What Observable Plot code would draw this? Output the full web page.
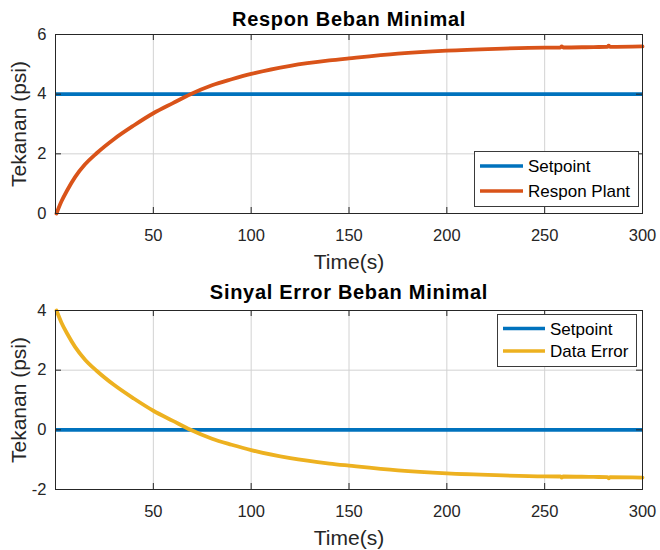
<!DOCTYPE html>
<html>
<head>
<meta charset="utf-8">
<script src="https://cdn.jsdelivr.net/npm/d3@7"></script>
<script src="https://cdn.jsdelivr.net/npm/@observablehq/plot@0.6"></script>
<style>
  html, body { margin: 0; padding: 0; background: #fff; }
  #wrap { position: relative; width: 660px; height: 550px; overflow: hidden; }
  #wrap svg { display: block; }
  #overlay { position: absolute; left: 0; top: 0; pointer-events: none; }
</style>
</head>
<body>
<div id="wrap"></div>
<script>
// ---- data ----
const times  = [0.5, 3, 6, 10, 15, 21, 30, 40, 50, 60, 69, 80, 90, 100, 120, 140, 150, 175, 200, 225, 250, 258, 258.7, 259.5, 275, 282, 282.7, 283.5, 300];
const respon = [0, 0.4, 0.78, 1.22, 1.64, 2.02, 2.5, 2.95, 3.36, 3.7, 4.0, 4.3, 4.5, 4.68, 4.95, 5.13, 5.2, 5.36, 5.46, 5.52, 5.56, 5.565, 5.6, 5.565, 5.58, 5.585, 5.625, 5.585, 5.6];
const errorData = [4.0, 3.6, 3.22, 2.78, 2.36, 1.98, 1.5, 1.05, 0.64, 0.3, 0.0, -0.3, -0.5, -0.68, -0.95, -1.13, -1.2, -1.36, -1.46, -1.52, -1.56, -1.565, -1.6, -1.565, -1.58, -1.585, -1.625, -1.585, -1.6];
const setpointRespon = 4;
const setpointError = 0;
const xDomain = [0, 300];
const xTicks = [50, 100, 150, 200, 250, 300];
const yTicksTop = [0, 2, 4, 6];
const yTicksBottom = [-2, 0, 2, 4];
const titleTop = "Respon Beban Minimal";
const titleBottom = "Sinyal Error Beban Minimal";
const xLabel = "Time(s)";
const yLabel = "Tekanan (psi)";
const legendTop = ["Setpoint", "Respon Plant"];
const legendBottom = ["Setpoint", "Data Error"];

const BLUE = "#0072BD", ORANGE = "#D95319", YELLOW = "#EDB120";
const AX = "#262626", GRID = "#d2d2d2";
const FONT = "'Liberation Sans', Arial, Helvetica, sans-serif";

const W = 660, H = 275, ML = 55, MR = 18;

function panel({values, color, setpoint, yDomain, yTicks, title, mt, mb, titleDy}) {
  const pw = W - ML - MR, ph = H - mt - mb;
  const data = times.map((t, i) => ({t, v: values[i]}));
  const svg = Plot.plot({
    width: W, height: H,
    marginLeft: ML, marginRight: MR, marginTop: mt, marginBottom: mb,
    x: {domain: xDomain, axis: null},
    y: {domain: yDomain, axis: null},
    style: {fontFamily: FONT, background: "#fff", color: AX, overflow: "visible"},
    marks: [
      Plot.gridX(xTicks, {stroke: GRID, strokeOpacity: 1}),
      Plot.gridY(yTicks, {stroke: GRID, strokeOpacity: 1}),
      Plot.ruleY([setpoint], {stroke: BLUE, strokeWidth: 3.6}),
      Plot.line(data, {x: "t", y: "v", stroke: color, strokeWidth: 3.8, curve: "monotone-x"}),
      Plot.frame({stroke: AX, strokeWidth: 1}),
      // inward ticks on all four sides
      Plot.tickX(xTicks, {x: d => d, stroke: AX, insetTop: ph - 6}),
      Plot.tickX(xTicks, {x: d => d, stroke: AX, insetBottom: ph - 6}),
      Plot.tickY(yTicks, {y: d => d, stroke: AX, insetRight: pw - 6}),
      Plot.tickY(yTicks, {y: d => d, stroke: AX, insetLeft: pw - 6}),
      Plot.axisX(xTicks, {anchor: "bottom", tickSize: 0, tickPadding: 16, fontSize: 16.5, label: null, tickFormat: d => String(d), fill: AX}),
      Plot.axisY(yTicks, {anchor: "left", tickSize: 0, tickPadding: 9, fontSize: 16.5, label: null, tickFormat: d => String(d), fill: AX}),
      Plot.text([xLabel], {text: d => d, frameAnchor: "bottom", lineAnchor: "middle", dy: 49, fontSize: 21, fill: AX}),
      Plot.text([yLabel], {text: d => d, frameAnchor: "left", textAnchor: "middle", lineAnchor: "middle", rotate: -90, dx: -36.5, fontSize: 21, fill: AX}),
      Plot.text([title], {text: d => d, frameAnchor: "top", lineAnchor: "middle", dy: titleDy, fontSize: 20, fontWeight: "bold", fill: "#000"})
    ]
  });
  d3.select(svg).selectAll("text").filter(function() { return this.textContent === title; })
    .attr("letter-spacing", "0.7px");
  return svg;
}

const wrap = document.getElementById("wrap");
wrap.appendChild(panel({values: respon, color: ORANGE, setpoint: setpointRespon, yDomain: [0, 6], yTicks: yTicksTop, title: titleTop, mt: 34, mb: 62, titleDy: -15}));
wrap.appendChild(panel({values: errorData, color: YELLOW, setpoint: setpointError, yDomain: [-2, 4], yTicks: yTicksBottom, title: titleBottom, mt: 35, mb: 61, titleDy: -17.5}));

// ---- legends (overlay) ----
const ov = d3.select(wrap).append("svg").attr("id", "overlay").attr("width", W).attr("height", 550)
  .style("font-family", FONT);
function legend(labels, colors, box, lineX, rowsY) {
  const g = ov.append("g");
  g.append("rect").attr("x", box[0] + 0.5).attr("y", box[1] + 0.5).attr("width", box[2]).attr("height", box[3])
    .attr("fill", "#fff").attr("stroke", "#3a3a3a").attr("stroke-width", 1);
  labels.forEach((lab, i) => {
    g.append("line").attr("x1", lineX[0]).attr("x2", lineX[1]).attr("y1", rowsY[i]).attr("y2", rowsY[i])
      .attr("stroke", colors[i]).attr("stroke-width", 3.6);
    g.append("text").attr("x", lineX[1] + 5).attr("y", rowsY[i]).attr("dy", "0.36em")
      .attr("font-size", 17).attr("fill", "#000").text(lab);
  });
}
legend(legendTop, [BLUE, ORANGE], [474, 151, 164, 55], [480, 523], [166, 191]);
legend(legendBottom, [BLUE, YELLOW], [497, 314, 139, 52], [503, 545], [328.5, 351]);
</script>
</body>
</html>
